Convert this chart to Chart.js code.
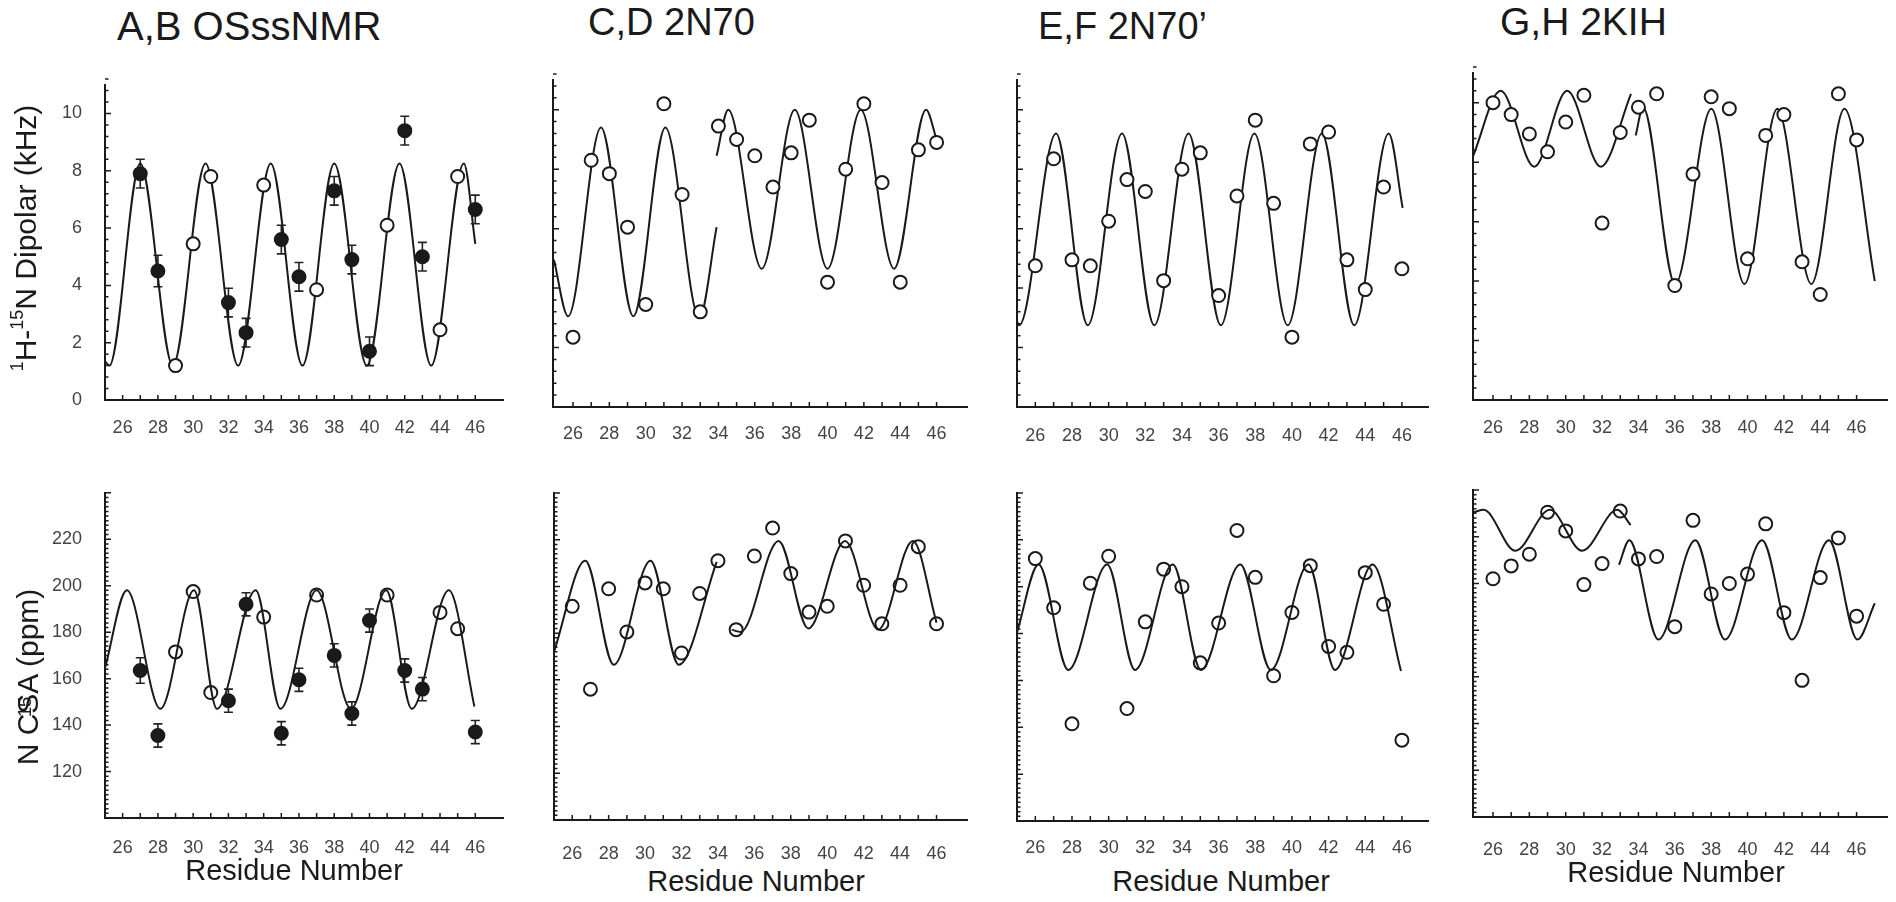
<!DOCTYPE html>
<html>
<head>
<meta charset="utf-8">
<title>PISA wave fits</title>
<script src="https://cdn.jsdelivr.net/npm/chart.js@4.4.1/dist/chart.umd.min.js"></script>
<style>
  body { margin: 0; background: #fff; }
  #page { position: relative; width: 1896px; height: 902px; overflow: hidden;
          font-family: "Liberation Sans", Arial, Helvetica, sans-serif; color: #1a1a1a; }
  #page canvas { position: absolute; }
  .txt { position: absolute; line-height: 1; white-space: nowrap; }
  .rot { transform: translate(-50%, -50%) rotate(-90deg); }
  .ctr { transform: translateX(-50%); }
  sup { font-size: 0.6em; vertical-align: 0; position: relative; top: -0.75em; }
  sup.ov { display: inline-block; width: 0; left: 48px; top: -7px; font-size: 0.62em; }
</style>
</head>
<body>
<div id="page"></div>
<script>
// residues shown on every panel
var residues = [26, 27, 28, 29, 30, 31, 32, 33, 34, 35, 36, 37, 38, 39, 40, 41, 42, 43, 44, 45, 46];

// A: OSssNMR dipolar couplings (kHz)
var osDipFilledRes = [27, 28, 32, 33, 35, 36, 38, 39, 40, 42, 43, 46];
var osDipFilled    = [7.9, 4.5, 3.4, 2.35, 5.6, 4.3, 7.3, 4.9, 1.7, 9.4, 5.0, 6.65];
var osDipFilledErr = [0.5, 0.55, 0.5, 0.5, 0.5, 0.5, 0.5, 0.5, 0.5, 0.5, 0.5, 0.5];
var osDipOpenRes   = [29, 30, 31, 34, 37, 41, 44, 45];
var osDipOpen      = [1.2, 5.45, 7.8, 7.5, 3.85, 6.1, 2.45, 7.8];
var osDipFitX = [25.0, 25.25, 27.0, 28.85, 30.7, 32.55, 34.4, 36.2, 38.0, 39.85, 41.7, 43.5, 45.35, 46.0];
var osDipFitY = [1.35, 1.2, 8.25, 1.2, 8.25, 1.2, 8.25, 1.2, 8.25, 1.2, 8.25, 1.2, 8.25, 5.45];

// B: OSssNMR 15N CSA (ppm)
var osCsaFilledRes = [27, 28, 32, 33, 35, 36, 38, 39, 40, 42, 43, 46];
var osCsaFilled    = [163.5, 135.5, 150.5, 192, 136.5, 159.5, 170, 145, 185, 163.5, 155.5, 137];
var osCsaFilledErr = [5.5, 5, 5, 5, 5, 5, 5, 5, 5, 5, 5, 5];
var osCsaOpenRes   = [29, 30, 31, 34, 37, 41, 44, 45];
var osCsaOpen      = [171.5, 197.5, 154, 186.5, 196, 196, 188.5, 181.5];
var osCsaFitX = [25.0, 26.24, 28.14, 30.05, 31.35, 33.55, 34.95, 37.0, 38.95, 40.95, 42.4, 44.5, 45.95];
var osCsaFitY = [164.5, 198, 147, 198, 147, 198, 147, 198, 147, 198, 147, 198, 148];

// C: 2N70 dipolar
var n70Dip = [2.35, 8.3, 7.85, 6.05, 3.45, 10.2, 7.15, 3.2, 9.45, 9.0, 8.45, 7.4, 8.55, 9.65, 4.2, 8.0, 10.2, 7.55, 4.2, 8.65, 8.9];
var n70DipFit1X = [24.95, 25.73, 27.54, 29.32, 31.08, 32.95, 33.9];
var n70DipFit1Y = [4.95, 3.05, 9.4, 3.05, 9.4, 3.0, 6.05];
var n70DipFit2X = [33.9, 34.54, 36.38, 38.2, 40.0, 41.83, 43.66, 45.42, 46.0];
var n70DipFit2Y = [8.45, 10.0, 4.65, 10.0, 4.65, 10.0, 4.65, 10.0, 9.0];

// D: 2N70 CSA
var n70Csa = [191.5, 156, 199, 180.5, 201.5, 199, 171.5, 197, 211, 181.5, 213, 225, 205.5, 189, 191.5, 219.5, 200.5, 184, 200.5, 217, 184];
var n70CsaFit1X = [25.0, 26.72, 28.28, 30.3, 31.85, 33.93];
var n70CsaFit1Y = [172, 211, 166.5, 211, 166.5, 210.5];
var n70CsaFit2X = [34.75, 35.25, 37.33, 38.96, 40.98, 42.8, 44.7, 46.0];
var n70CsaFit2Y = [181.5, 180.5, 219.5, 182, 219.5, 181.5, 219.5, 184.5];

// E: 2N70' dipolar
var n70pDip = [4.75, 8.35, 4.95, 4.75, 6.25, 7.65, 7.25, 4.25, 8.0, 8.55, 3.75, 7.1, 9.65, 6.85, 2.35, 8.85, 9.25, 4.95, 3.95, 7.4, 4.65];
var n70pDipFitX = [24.98, 25.12, 27.13, 28.86, 30.73, 32.49, 34.36, 36.12, 37.95, 39.77, 41.63, 43.4, 45.28, 46.04];
var n70pDipFitY = [2.9, 2.75, 9.2, 2.75, 9.2, 2.75, 9.2, 2.75, 9.2, 2.75, 9.2, 2.75, 9.2, 6.7];

// F: 2N70' CSA
var n70pCsa = [212, 191, 141.5, 201.5, 213, 148, 185, 207.5, 200, 167.5, 184.5, 224, 204, 162, 189, 209, 174.5, 172, 206, 192.5, 134.5];
var n70pCsaFitX = [25.0, 26.18, 27.8, 29.92, 31.44, 33.5, 35.04, 37.18, 38.85, 40.9, 42.35, 44.4, 45.95];
var n70pCsaFitY = [180.5, 209.5, 164.5, 209.5, 164.5, 209.5, 164.5, 209.5, 164.5, 209.5, 164.5, 209.5, 164];

// G: 2KIH dipolar
var kihDip = [10.0, 9.6, 8.95, 8.35, 9.35, 10.25, 5.95, 9.0, 9.85, 10.3, 3.85, 7.6, 10.2, 9.8, 4.75, 8.9, 9.6, 4.65, 3.55, 10.3, 8.75];
var kihDipFit1X = [24.9, 26.42, 28.27, 30.08, 31.93, 33.59];
var kihDipFit1Y = [8.2, 10.4, 7.85, 10.4, 7.85, 10.3];
var kihDipFit2X = [33.85, 34.25, 36.02, 38.01, 39.83, 41.64, 43.51, 45.33, 47.0];
var kihDipFit2Y = [8.9, 9.85, 3.9, 9.8, 3.9, 9.8, 3.9, 9.8, 4.0];

// H: 2KIH CSA
var kihCsa = [202, 207.5, 212.5, 230.5, 222.5, 199.5, 208.5, 231, 210.5, 211.5, 181.5, 227, 195.5, 200, 204, 225.5, 187.5, 158.5, 202.5, 219.5, 186];
var kihCsaFit1X = [24.95, 25.48, 27.23, 29.13, 30.9, 32.84, 33.57];
var kihCsaFit1Y = [230.5, 231.5, 214, 231.5, 214, 231.5, 225];
var kihCsaFit2X = [32.93, 33.5, 35.1, 37.13, 38.76, 40.8, 42.44, 44.48, 46.05, 47.0];
var kihCsaFit2Y = [208, 218.5, 176, 218.5, 176, 218.5, 176, 218.5, 176, 191.5];

var FONT = '"Liberation Sans", Arial, Helvetica, sans-serif';
var INK = '#1a1a1a';
var page = document.getElementById('page');

function pts(xs, ys) {
  return xs.map(function (x, i) { return { x: x, y: ys[i] }; });
}

function fitLine(xs, ys) {
  return { type: 'line', data: pts(xs, ys), borderColor: INK, borderWidth: 2, pointRadius: 0,
           fill: false, cubicInterpolationMode: 'monotone', order: 3 };
}

function circles(xs, ys, fillColor, errs) {
  return { type: 'scatter', data: pts(xs, ys), errors: errs, pointRadius: 6.5, pointHoverRadius: 6.5,
           pointBorderWidth: 2, pointBorderColor: INK, pointBackgroundColor: fillColor, order: 1 };
}

// inward tick marks, like the original plotting program
var inTicks = {
  id: 'inTicks',
  afterDraw: function (chart, args, opts) {
    var ctx = chart.ctx, xs = chart.scales.x, ys = chart.scales.y, a = chart.chartArea;
    ctx.save();
    ctx.strokeStyle = INK;
    ctx.lineWidth = 1.5;
    ctx.beginPath();
    for (var v = 26; v <= 46; v++) {
      var px = xs.getPixelForValue(v);
      ctx.moveTo(px, a.bottom);
      ctx.lineTo(px, a.bottom - 5);
    }
    var n = Math.round((ys.max - ys.min) / opts.minor);
    for (var i = 0; i <= n; i++) {
      var val = ys.min + i * opts.minor;
      var py = ys.getPixelForValue(val);
      var r = (val - opts.base) / opts.major;
      var major = Math.abs(r - Math.round(r)) < 1e-6;
      ctx.moveTo(a.left, py);
      ctx.lineTo(a.left + (major ? 6 : 3.5), py);
    }
    ctx.stroke();
    ctx.restore();
  }
};

// vertical error bars for datasets that carry an errors list
var errBars = {
  id: 'errBars',
  beforeDatasetsDraw: function (chart) {
    var ctx = chart.ctx, ys = chart.scales.y;
    ctx.save();
    ctx.strokeStyle = '#222';
    ctx.lineWidth = 1.6;
    chart.data.datasets.forEach(function (ds, i) {
      if (!ds.errors) return;
      var meta = chart.getDatasetMeta(i);
      ds.data.forEach(function (p, j) {
        var x = meta.data[j].x;
        var top = ys.getPixelForValue(p.y + ds.errors[j]);
        var bot = ys.getPixelForValue(p.y - ds.errors[j]);
        ctx.beginPath();
        ctx.moveTo(x, top); ctx.lineTo(x, bot);
        ctx.moveTo(x - 4.5, top); ctx.lineTo(x + 4.5, top);
        ctx.moveTo(x - 4.5, bot); ctx.lineTo(x + 4.5, bot);
        ctx.stroke();
      });
    });
    ctx.restore();
  }
};

function makePanel(p) {
  var L = p.yLabels ? 90 : 12, T = 16, R = 4, B = 44;
  var w = p.box[2] - p.box[0] + L + R;
  var h = p.box[3] - p.box[1] + T + B;
  var cv = document.createElement('canvas');
  cv.width = w; cv.height = h;
  cv.style.left = (p.box[0] - L) + 'px';
  cv.style.top = (p.box[1] - T) + 'px';
  cv.style.width = w + 'px';
  cv.style.height = h + 'px';
  page.appendChild(cv);

  var dip = p.kind === 'dip';
  new Chart(cv.getContext('2d'), {
    type: 'scatter',
    data: { datasets: p.datasets },
    plugins: [errBars, inTicks],
    options: {
      responsive: false,
      animation: false,
      devicePixelRatio: 1,
      layout: { padding: { left: 0, top: T, right: R, bottom: 0 } },
      plugins: {
        legend: { display: false },
        tooltip: { enabled: false },
        inTicks: dip ? { major: 2, minor: 0.4, base: 0 } : { major: 20, minor: 2, base: 100 }
      },
      scales: {
        x: {
          type: 'linear', min: p.x[0], max: p.x[1],
          afterFit: function (s) { s.height = B; },
          border: { color: INK, width: 2 },
          grid: { display: false },
          ticks: { stepSize: 2, includeBounds: false, autoSkip: false, maxRotation: 0,
                   padding: p.labelPad, color: '#444', font: { family: FONT, size: 18 } }
        },
        y: {
          type: 'linear', min: p.y[0], max: p.y[1],
          afterFit: function (s) { s.width = L; },
          border: { color: INK, width: 2 },
          grid: { display: false },
          ticks: {
            display: p.yLabels, stepSize: dip ? 2 : 20, includeBounds: false,
            padding: 15, color: '#444', font: { family: FONT, size: 18 },
            callback: function (v) { return (dip || (v >= 120 && v <= 220)) ? v : ''; }
          }
        }
      }
    }
  });
}

var WHITE = '#fff', CLEAR = 'rgba(255,255,255,0)';

var panels = [
  { box: [105, 75, 508, 400], x: [25, 47.6], y: [0, 11], kind: 'dip', yLabels: true, labelPad: 9,
    datasets: [circles(osDipFilledRes, osDipFilled, INK, osDipFilledErr), circles(osDipOpenRes, osDipOpen, WHITE),
               fitLine(osDipFitX, osDipFitY)] },
  { box: [105, 483, 508, 818], x: [25, 47.6], y: [100, 240], kind: 'csa', yLabels: true, labelPad: 11,
    datasets: [circles(osCsaFilledRes, osCsaFilled, INK, osCsaFilledErr), circles(osCsaOpenRes, osCsaOpen, CLEAR),
               fitLine(osCsaFitX, osCsaFitY)] },
  { box: [553, 80, 972, 407], x: [24.9, 47.7], y: [0, 11], kind: 'dip', yLabels: false, labelPad: 8,
    datasets: [circles(residues, n70Dip, WHITE), fitLine(n70DipFit1X, n70DipFit1Y), fitLine(n70DipFit2X, n70DipFit2Y)] },
  { box: [554, 493, 972, 820], x: [25, 47.7], y: [100, 240], kind: 'csa', yLabels: false, labelPad: 15,
    datasets: [circles(residues, n70Csa, CLEAR), fitLine(n70CsaFit1X, n70CsaFit1Y), fitLine(n70CsaFit2X, n70CsaFit2Y)] },
  { box: [1017, 80, 1433, 407], x: [25, 47.45], y: [0, 11], kind: 'dip', yLabels: false, labelPad: 10,
    datasets: [circles(residues, n70pDip, WHITE), fitLine(n70pDipFitX, n70pDipFitY)] },
  { box: [1017, 493, 1433, 821], x: [25, 47.45], y: [100, 240], kind: 'csa', yLabels: false, labelPad: 8,
    datasets: [circles(residues, n70pCsa, CLEAR), fitLine(n70pCsaFitX, n70pCsaFitY)] },
  { box: [1473, 73, 1892, 400], x: [24.9, 47.7], y: [0, 11], kind: 'dip', yLabels: false, labelPad: 9,
    datasets: [circles(residues, kihDip, WHITE), fitLine(kihDipFit1X, kihDipFit1Y), fitLine(kihDipFit2X, kihDipFit2Y)] },
  { box: [1473, 490, 1892, 817], x: [24.9, 47.7], y: [100, 240], kind: 'csa', yLabels: false, labelPad: 14,
    datasets: [circles(residues, kihCsa, CLEAR), fitLine(kihCsaFit1X, kihCsaFit1Y), fitLine(kihCsaFit2X, kihCsaFit2Y)] }
];

panels.forEach(makePanel);

function addText(html, cls, css) {
  var d = document.createElement('div');
  d.className = 'txt ' + cls;
  d.innerHTML = html;
  Object.assign(d.style, css);
  page.appendChild(d);
}

// panel titles
addText('A,B OSssNMR', '', { left: '117px', top: '6px', fontSize: '40px' });
addText('C,D 2N70', '', { left: '588px', top: '3px', fontSize: '38px' });
addText('E,F 2N70\u2019', '', { left: '1038px', top: '7px', fontSize: '38px' });
addText('G,H 2KIH', '', { left: '1500px', top: '2px', fontSize: '39px' });

// y axis titles
addText('<sup>1</sup>H-<sup>15</sup>N Dipolar (kHz)', 'rot', { left: '26px', top: '238px', fontSize: '30px' });
addText('<sup class="ov">15</sup>N CSA (ppm)', 'rot', { left: '28px', top: '677px', fontSize: '30px' });

// x axis titles
addText('Residue Number', 'ctr', { left: '294px', top: '856px', fontSize: '29px' });
addText('Residue Number', 'ctr', { left: '756px', top: '867px', fontSize: '29px' });
addText('Residue Number', 'ctr', { left: '1221px', top: '867px', fontSize: '29px' });
addText('Residue Number', 'ctr', { left: '1676px', top: '858px', fontSize: '29px' });
</script>
</body>
</html>
